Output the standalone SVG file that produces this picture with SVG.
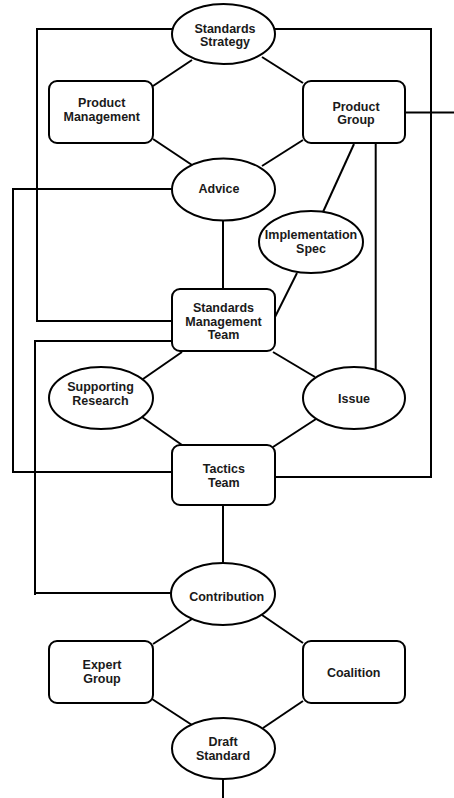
<svg xmlns="http://www.w3.org/2000/svg" width="454" height="798" viewBox="0 0 454 798">
<style>
.n{fill:#fff;stroke:#000;stroke-width:2}
.c{fill:none;stroke:#000;stroke-width:2}
text{font-family:"Liberation Sans",Arial,sans-serif;font-weight:bold;font-size:12.5px;fill:#1a1a1a;text-anchor:middle}
</style>
<rect width="454" height="798" fill="#fff"/>
<g id="connectors">
<polyline class="c" points="172,29 37,29 37,321 172,321"/>
<polyline class="c" points="275,29 431,29 431,477 275,477"/>
<line class="c" x1="405" y1="112.5" x2="454" y2="112.5"/>
<polyline class="c" points="172,189 13,189 13,472 172,472"/>
<polyline class="c" points="172,341 35,341 35,595"/>
<line class="c" x1="35" y1="593" x2="171" y2="593"/>
<line class="c" x1="192" y1="60" x2="153" y2="86"/>
<line class="c" x1="262" y1="57" x2="303" y2="83"/>
<line class="c" x1="153" y1="139" x2="192" y2="165"/>
<line class="c" x1="303" y1="140" x2="262" y2="166"/>
<line class="c" x1="354" y1="144" x2="323" y2="212"/>
<line class="c" x1="375.7" y1="144" x2="375.7" y2="370"/>
<line class="c" x1="297" y1="273" x2="275" y2="317"/>
<line class="c" x1="223" y1="221" x2="223" y2="289"/>
<line class="c" x1="182" y1="352" x2="143" y2="379"/>
<line class="c" x1="273" y1="352" x2="315" y2="377"/>
<line class="c" x1="142" y1="417" x2="182" y2="445"/>
<line class="c" x1="316" y1="419" x2="273" y2="447"/>
<line class="c" x1="223" y1="505" x2="223" y2="563"/>
<line class="c" x1="192" y1="619" x2="153" y2="644"/>
<line class="c" x1="262" y1="615" x2="303" y2="643"/>
<line class="c" x1="152" y1="699" x2="192" y2="725"/>
<line class="c" x1="303" y1="701" x2="263" y2="728"/>
<line class="c" x1="223" y1="779" x2="223" y2="798"/>
</g>
<g id="standards-strategy"><ellipse class="n" cx="223.5" cy="34" rx="51.5" ry="30"/><text x="225" y="33">Standards</text><text x="225" y="46.3">Strategy</text></g>
<g id="product-management"><rect class="n" x="49" y="81" width="104" height="62" rx="8"/><text x="101.7" y="107.3">Product</text><text x="101.7" y="120.7">Management</text></g>
<g id="product-group"><rect class="n" x="303" y="81" width="102" height="62" rx="8"/><text x="356" y="110.8">Product</text><text x="356" y="124.3">Group</text></g>
<g id="advice"><ellipse class="n" cx="223.5" cy="189.5" rx="51.5" ry="31"/><text x="219" y="193.3">Advice</text></g>
<g id="implementation-spec"><ellipse class="n" cx="311" cy="242" rx="52" ry="31"/><text x="311" y="239.3">Implementation</text><text x="311" y="252.7">Spec</text></g>
<g id="standards-management-team"><rect class="n" x="172" y="289" width="103" height="62" rx="8"/><text x="223.5" y="311.7">Standards</text><text x="223.5" y="325.5">Management</text><text x="223.5" y="339.3">Team</text></g>
<g id="supporting-research"><ellipse class="n" cx="101" cy="398" rx="52" ry="31"/><text x="100.5" y="390.7">Supporting</text><text x="100.5" y="405">Research</text></g>
<g id="issue"><ellipse class="n" cx="354" cy="398" rx="51" ry="31"/><text x="354" y="403.3">Issue</text></g>
<g id="tactics-team"><rect class="n" x="172" y="445" width="103" height="60" rx="8"/><text x="223.8" y="473.3">Tactics</text><text x="223.8" y="487.3">Team</text></g>
<g id="contribution"><ellipse class="n" cx="223" cy="594" rx="52" ry="31"/><text x="226.7" y="600.7">Contribution</text></g>
<g id="expert-group"><rect class="n" x="49" y="641" width="104" height="62" rx="8"/><text x="102" y="669.3">Expert</text><text x="102" y="682.7">Group</text></g>
<g id="coalition"><rect class="n" x="303" y="641" width="102" height="62" rx="8"/><text x="353.7" y="676.7">Coalition</text></g>
<g id="draft-standard"><ellipse class="n" cx="223.5" cy="748.5" rx="51.5" ry="30.5"/><text x="223" y="746.1">Draft</text><text x="223" y="759.6">Standard</text></g>
</svg>
